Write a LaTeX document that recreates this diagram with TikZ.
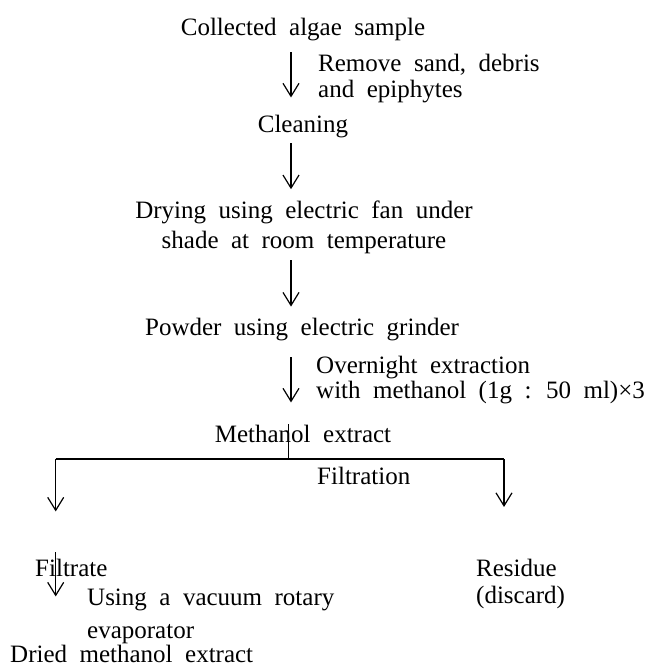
\documentclass[tikz,border=0pt]{standalone}
\usepackage{fontspec}
\setmainfont{Liberation Serif}[WordSpace=2]
\usetikzlibrary{arrows.meta}
\tikzset{
  txt/.style={inner sep=0pt,font=\fontsize{25}{30}\selectfont},
  flow/.style={-{Straight Barb[length=13pt,width=16pt]},line width=1.2pt},
  link/.style={line width=1.2pt},
}

\begin{document}
\begin{tikzpicture}[x=1pt,y=-1pt]
  \useasboundingbox (0,0) rectangle (650,667);
  % main column (multi-line nodes sit on their last line)
  \node[txt,anchor=base] (col) at (303,35.5) {Collected algae sample};
  \node[txt,anchor=base west,align=left,font=\fontsize{25}{26}\selectfont] (rem) at (318,97) {Remove sand, debris\\and epiphytes};
  \node[txt,anchor=base] (clean) at (303,132.5) {Cleaning};
  \node[txt,anchor=base,align=center] (dry) at (304,248) {Drying using electric fan under\\shade at room temperature};
  \node[txt,anchor=base] (pow) at (302,335.5) {Powder using electric grinder};
  \node[txt,anchor=base west,align=left,font=\fontsize{25}{25}\selectfont] (ovn) at (316,398) {Overnight extraction\\with methanol (1g : 50 ml)×3};
  \node[txt,anchor=base] (meth) at (303,442) {Methanol extract};
  \node[txt,anchor=base west] (filt) at (317,484) {Filtration};
  % branches
  \node[txt,anchor=base west] (ftr) at (35,576) {Filtrate};
  \node[txt,anchor=base west,align=left,font=\fontsize{25}{26.5}\selectfont] (res) at (476,603) {Residue\\(discard)};
  \node[txt,anchor=base west,align=left,font=\fontsize{25}{33}\selectfont] (vac) at (87,638) {Using a vacuum rotary\\evaporator};
  \node[txt,anchor=base west] (dried) at (10,662.5) {Dried methanol extract};

  \coordinate (ax) at (291,0);
  \coordinate (split) at (288.5,459);
  \coordinate (lt) at (55.7,459);
  \coordinate (rt) at (504,459);

  \draw[flow,shorten <=11pt,shorten >=17.5pt] (col.south -| ax) -- (clean.north -| ax);
  \draw[flow,shorten <=5pt,shorten >=11pt] (clean.south -| ax) -- (dry.north -| ax);
  \draw[flow,shorten <=6.6pt,shorten >=11.4pt] (dry.south -| ax) -- (pow.north -| ax);
  \draw[flow,shorten <=16pt,shorten >=22pt] (pow.south -| ax) -- (meth.north -| ax);
  \draw[link] (meth.north -| split) -- (split);
  \draw[link] (lt) -- (rt);
  \draw[flow,shorten >=47pt] (lt) -- (lt |- ftr.north);
  \draw[flow,shorten >=52pt] (rt) -- (rt |- res.north);
  \draw[flow,shorten <=-6pt,shorten >=48.5pt] (ftr.north -| lt) -- (dried.north -| lt);
\end{tikzpicture}
\end{document}
